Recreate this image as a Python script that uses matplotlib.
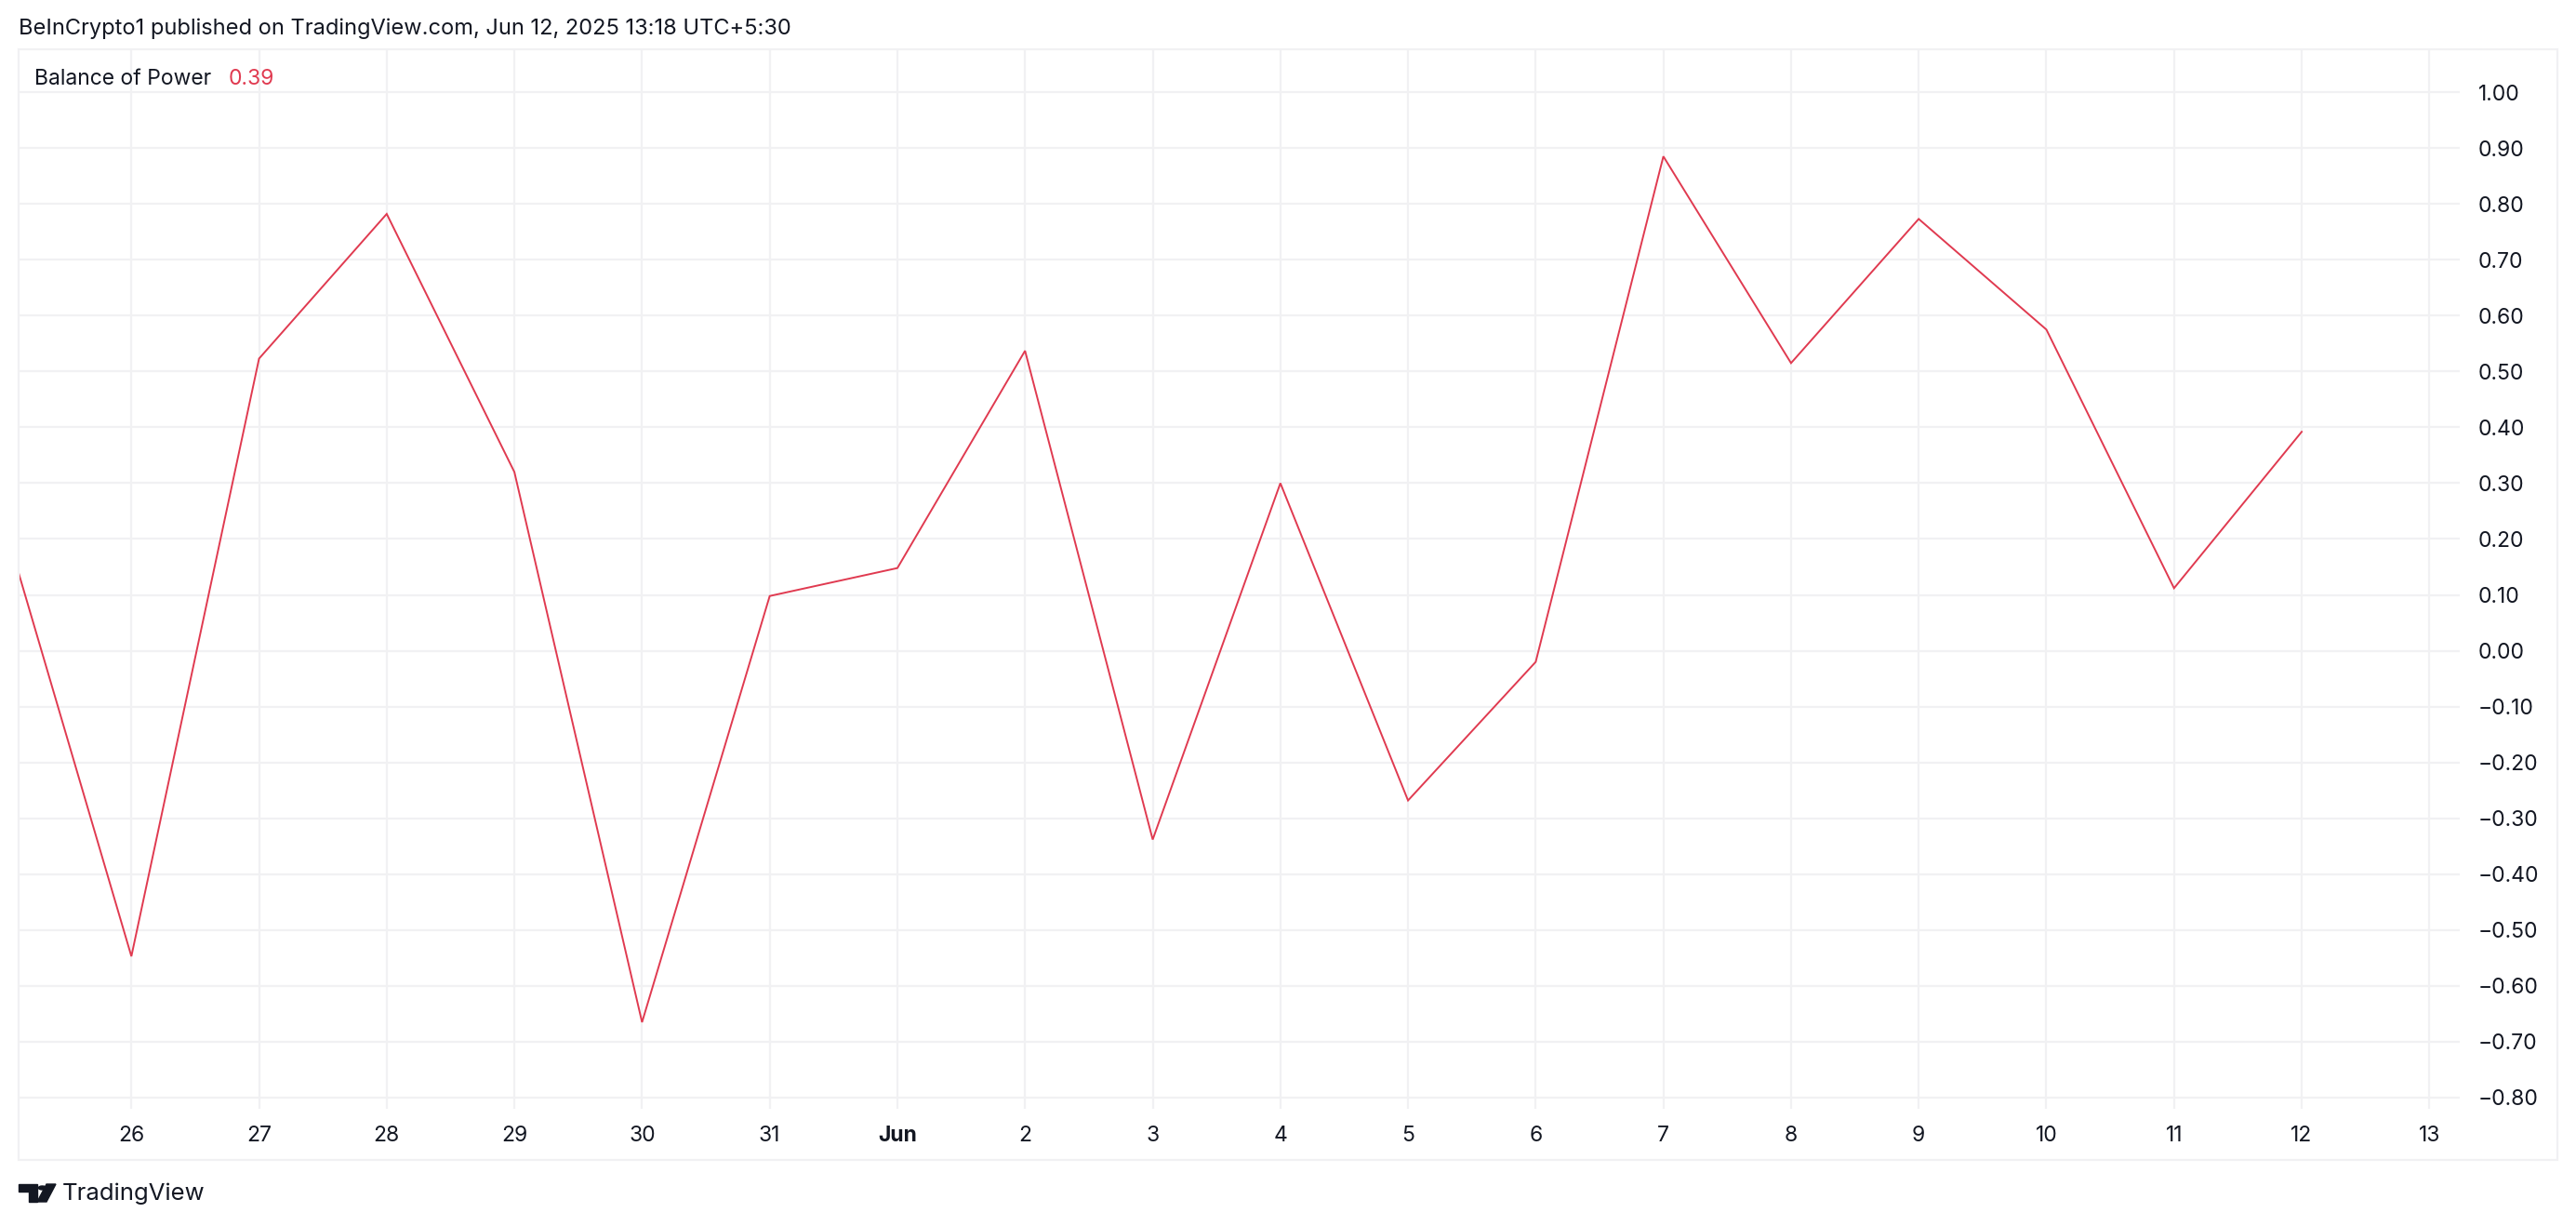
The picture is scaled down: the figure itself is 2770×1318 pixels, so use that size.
import matplotlib.pyplot as plt
from matplotlib.patches import Rectangle, Polygon, Circle

# Balance of Power, daily values (25 May - 12 Jun 2025)
day_labels = ["25", "26", "27", "28", "29", "30", "31", "Jun", "2", "3", "4",
              "5", "6", "7", "8", "9", "10", "11", "12", "13"]
bop_values = [0.23, -0.547, 0.523, 0.782, 0.32, -0.665, 0.098, 0.148, 0.537,
              -0.338, 0.30, -0.268, -0.02, 0.885, 0.515, 0.773, 0.575, 0.112, 0.392]
y_ticks = [1.0, 0.9, 0.8, 0.7, 0.6, 0.5, 0.4, 0.3, 0.2, 0.1, 0.0,
           -0.1, -0.2, -0.3, -0.4, -0.5, -0.6, -0.7, -0.8]

W, H = 2770, 1318
LINE = '#E03A50'
TXT = '#131722'
GRID = '#F1F1F3'

plt.rcParams['font.family'] = ['Inter', 'DejaVu Sans']

fig = plt.figure(figsize=(W / 100, H / 100), dpi=100)
fig.patch.set_facecolor('white')

# plot pane in pixel coords: x 20..2645, y 53..1192
ax = fig.add_axes([20 / W, (H - 1192) / H, (2645 - 20) / W, (1192 - 53) / H])
x = list(range(len(bop_values)))
ax.plot(x, bop_values, color=LINE, lw=1.4, solid_joinstyle='miter', zorder=3)

ax.set_xlim(16 / 137.28, 2641 / 137.28)
ax.set_ylim(-0.82, 1.0767)

ax.set_xticks(range(1, len(day_labels)))
ax.set_xticklabels(day_labels[1:])
for lab in ax.get_xticklabels():
    if lab.get_text() == "Jun":
        lab.set_fontweight('bold')
ax.set_yticks(y_ticks)
ax.set_yticklabels([f"{v:.2f}".replace('-', '\u2212') for v in y_ticks])
ax.yaxis.tick_right()
ax.tick_params(axis='both', length=0, labelsize=16.5, labelcolor=TXT)
ax.tick_params(axis='y', pad=14.4)
ax.tick_params(axis='x', pad=13)
for lab in ax.get_yticklabels():
    lab.set_horizontalalignment('left')

ax.grid(True, color=GRID, lw=1.6)
ax.set_axisbelow(True)
for s in ax.spines.values():
    s.set_visible(False)

# outer pane border
fig.patches.append(Rectangle((20 / W, (H - 1247) / H), (2750 - 20) / W, (1247 - 53) / H,
                             transform=fig.transFigure, fill=False,
                             edgecolor=GRID, lw=1.6))

fig.text(20 / W, 1 - 31 / H, "BeInCrypto1 published on TradingView.com, Jun 12, 2025 13:18 UTC+5:30",
         fontsize=17, color=TXT, va='center', ha='left')
fig.text(37 / W, 1 - 85 / H, "Balance of Power", fontsize=16.5, color=TXT, va='center', ha='left')
fig.text(246 / W, 1 - 85 / H, f"{bop_values[-1]:.2f}", fontsize=16.5, color=LINE,
         va='center', ha='left')

# TradingView logo
def px(xp, yp):
    return (xp / W, 1 - yp / H)

logo = '#131722'
fig.patches.append(Polygon([px(20, 1273), px(40, 1273), px(40, 1292), px(31, 1292),
                            px(31, 1281), px(20, 1281)], closed=True,
                           transform=fig.transFigure, color=logo))
fig.patches.append(Circle(px(45.5, 1277), 4.2 / W, transform=fig.transFigure, color=logo))
fig.patches.append(Polygon([px(50, 1273), px(60, 1273), px(50, 1292), px(40, 1292)],
                           closed=True, transform=fig.transFigure, color=logo))
fig.text(67 / W, 1 - 1283 / H, "TradingView", fontsize=18.5, color=TXT, va='center', ha='left')

fig.savefig('out.png', dpi=100, facecolor='white')
